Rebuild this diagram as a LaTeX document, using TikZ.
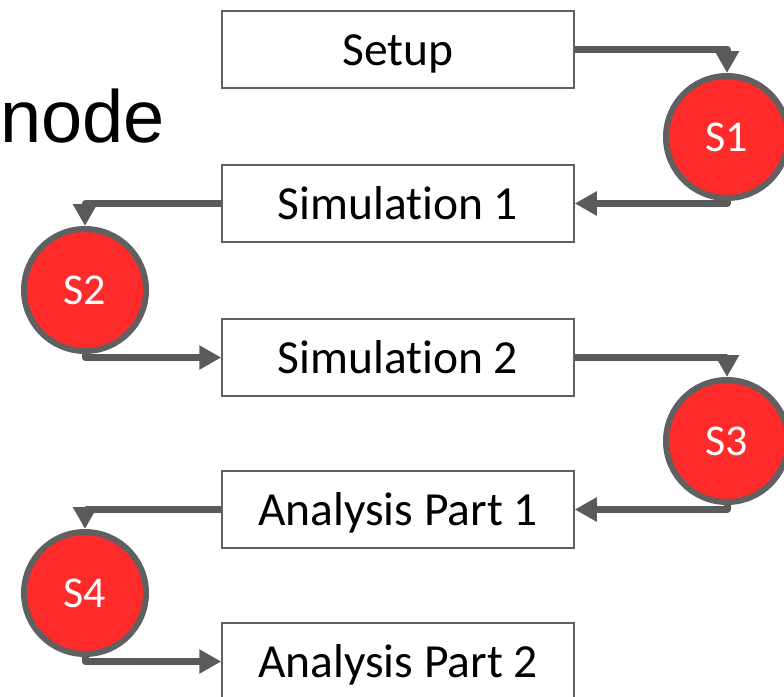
\documentclass[tikz,border=0pt]{standalone}
\usepackage{fontspec}
\setmainfont[Ligatures=NoCommon]{Carlito}
\newfontfamily\arialfont{Liberation Sans}
\usetikzlibrary{arrows.meta}
\definecolor{boxgray}{HTML}{606060}
\definecolor{arrgray}{HTML}{5A5A5A}
\definecolor{stepred}{HTML}{FF2A2A}
\tikzset{
  stagebox/.style={draw=boxgray, line width=1.5pt, fill=white, minimum width=352pt, minimum height=77pt, inner sep=0pt, text height=32pt, text depth=0pt, font=\fontsize{47.5}{52}\selectfont},
  syncnode/.style={circle, draw=boxgray, line width=6pt, fill=stepred, minimum size=122pt, inner sep=0pt, text=white, text height=29pt, text depth=0pt, font=\fontsize{44}{48}\selectfont},
  flow/.style={draw=arrgray, line width=7pt, line join=round, -{Triangle[length=22pt,width=23pt]}}
}
\begin{document}
\begin{tikzpicture}[x=1pt,y=-1pt]
\useasboundingbox (0,0) rectangle (784,696);
\node[anchor=base west, inner sep=0pt, font=\arialfont\fontsize{74}{80}\selectfont] (lbl) at (0,142) {node};
\node[stagebox] (setup) at (398,49.5) {Setup};
\node[stagebox] (sim1) at (398,203.5) {Simulation 1};
\node[stagebox] (sim2) at (398,357.5) {Simulation 2};
\node[stagebox] (ap1) at (398,509.5) {Analysis Part 1};
\node[stagebox] (ap2) at (398,661.5) {Analysis Part 2};
\node[syncnode] (s1) at (727,137) {S1};
\node[syncnode] (s2) at (85,290) {S2};
\node[syncnode] (s3) at (727,441) {S3};
\node[syncnode] (s4) at (85,593) {S4};
\draw[flow] (setup.east) -| (s1.north);
\draw[flow] (s1.south) |- (sim1.east);
\draw[flow] (sim1.west) -| (s2.north);
\draw[flow] (s2.south) |- (sim2.west);
\draw[flow] (sim2.east) -| (s3.north);
\draw[flow] (s3.south) |- (ap1.east);
\draw[flow] (ap1.west) -| (s4.north);
\draw[flow] (s4.south) |- (ap2.west);
\end{tikzpicture}
\end{document}
